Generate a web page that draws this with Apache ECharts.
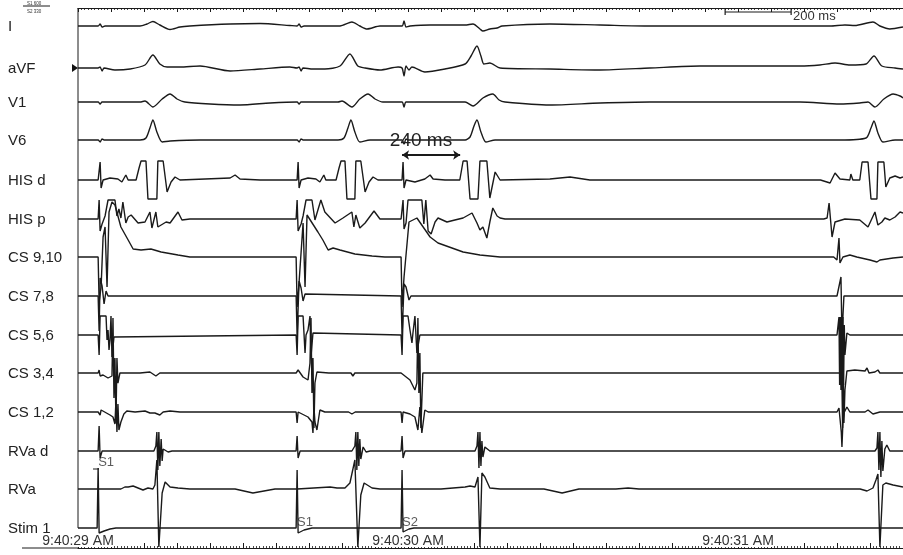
<!DOCTYPE html>
<html><head><meta charset="utf-8">
<script src="https://cdn.jsdelivr.net/npm/echarts@6/dist/echarts.min.js"></script>
<style>html,body{margin:0;padding:0;background:#fff}#c{width:903px;height:555px}</style>
</head><body><div id="c"></div>
<script>
// ---------- DATA (time in ms from 9:40:29 AM, amplitude in trace units, positive = up) ----------
const channelNames = ['I','aVF','V1','V6','HIS d','HIS p','CS 9,10','CS 7,8','CS 5,6','CS 3,4','CS 1,2','RVa d','RVa','Stim 1'];
const timeTickLabels = ['9:40:29 AM','9:40:30 AM','9:40:31 AM'];
const stimTimes = [61, 664, 982];
const stimNames = ['S1','S1','S2'];
const protocolText = ['S1 600','S2 330'];
const scaleBarMs = 200;
const measureFrom = 982, measureTo = 1158, measureText = '240 ms';

const leadI = [[0,0],[61,0],[67,2],[73,-1],[82,0],[188,0],[209,2],[227,4.5],[248,1],[279,-3.5],[309,-1],[339,0],[461,2],[552,2.5],[642,0.5],[664,0],[670,2],[676,-1],[685,0],[794,0],[830,4],[854,0],[876,-3],[915,0],[982,0],[988,5],[994,-1],[1006,0],[1067,1],[1173,1],[1197,2],[1218,-3],[1227,-5],[1248,-3],[1270,-2],[1285,0],[1430,2],[1582,1],[1733,0],[2279,0],[2324,1],[2354,0.5],[2409,4],[2430,0],[2460,-3],[2500,-1]];
const leadAVF = [[0,0],[61,0],[67,1],[73,-3],[79,0],[112,-2],[158,-1],[203,3],[227,13],[248,4],[270,1],[309,1],[370,2],[461,-3],[552,-1],[642,1],[664,0],[670,1],[676,-3],[682,0],[712,-1],[748,-1],[794,2],[824,14],[848,2],[870,0],[915,-2],[970,1],[982,0],[988,-8],[994,2],[1003,-2],[1012,1],[1051,-4],[1112,-1],[1173,4],[1191,12],[1209,22],[1221,12],[1230,4],[1248,5],[1279,0],[1430,-1],[1582,-2],[1733,0],[1885,2],[2188,2],[2248,3],[2294,5],[2339,3],[2388,4],[2412,12],[2436,2],[2476,0],[2500,-1]];
const leadV1 = [[0,0],[61,0],[67,-2],[73,0],[188,0],[203,1],[227,-5],[255,3],[279,8],[300,3],[324,0],[400,-2],[491,-3],[582,-1],[664,0],[670,-2],[676,0],[788,0],[800,1],[830,-5],[854,3],[879,8],[900,3],[924,0],[982,0],[988,-5],[994,0],[1173,0],[1197,-4],[1227,4],[1257,8],[1276,2],[1294,0],[1430,-3],[1582,-1],[1733,0],[2188,0],[2309,-2],[2369,-1],[2394,0],[2415,-5],[2442,3],[2470,8],[2491,6],[2500,4]];
const leadV6 = [[0,0],[61,0],[67,-2],[73,1],[79,0],[188,0],[206,2],[218,12],[227,20],[239,8],[255,-2],[279,-1],[370,0],[664,0],[670,-2],[676,1],[682,0],[788,0],[806,2],[818,12],[827,20],[839,8],[854,-2],[885,0],[982,0],[988,-4],[994,1],[1000,0],[1173,0],[1188,3],[1200,14],[1209,20],[1221,8],[1236,-2],[1264,0],[2309,0],[2388,2],[2403,12],[2412,19],[2424,7],[2439,-2],[2476,0],[2500,0]];
const hisD = [[0,0],[61,0],[64,0],[67,18],[70,-8],[76,0],[97,2],[121,1],[133,-2],[145,5],[152,0],[176,0],[185,12],[191,19],[206,19],[212,-19],[239,-19],[242,19],[258,19],[270,-12],[282,-2],[294,3],[309,0],[461,2],[476,5],[491,1],[552,0],[664,0],[667,18],[670,-8],[676,0],[697,2],[721,1],[733,-2],[745,5],[751,0],[782,0],[791,12],[797,19],[809,19],[815,-19],[839,-19],[842,19],[857,19],[870,-12],[882,-2],[894,3],[909,0],[982,0],[985,18],[988,-8],[994,0],[1021,-2],[1051,1],[1067,5],[1076,1],[1112,0],[1157,0],[1167,19],[1179,19],[1188,-19],[1212,-19],[1218,19],[1239,19],[1248,-18],[1264,8],[1279,0],[1430,1],[1491,3],[1551,0],[2250,0],[2279,-3],[2294,7],[2309,1],[2339,0],[2342,6],[2348,0],[2369,0],[2376,18],[2394,18],[2403,-19],[2421,-19],[2424,18],[2442,18],[2448,-7],[2460,2],[2476,4],[2491,2],[2500,3]];
const hisP = [[0,0],[61,0],[64,19],[67,-12],[73,-5],[82,3],[91,19],[112,19],[118,3],[124,10],[130,1],[136,17],[145,-4],[152,2],[161,4],[182,-4],[203,-3],[218,7],[224,-9],[236,7],[242,-8],[267,-3],[279,-4],[303,7],[315,-1],[339,0],[661,0],[664,19],[667,-12],[676,-5],[682,3],[691,19],[709,19],[718,-1],[736,19],[748,7],[779,-4],[803,1],[830,7],[836,-8],[842,4],[854,-9],[870,-4],[897,8],[915,0],[979,0],[985,19],[988,-10],[994,-4],[1000,19],[1042,19],[1048,-5],[1054,19],[1061,-12],[1070,-15],[1082,-3],[1091,1],[1118,-3],[1142,-1],[1167,1],[1194,6],[1209,-4],[1218,-11],[1227,-8],[1239,-19],[1248,-3],[1257,11],[1270,3],[1279,1],[1294,0],[2260,0],[2270,1],[2276,16],[2285,-18],[2294,-3],[2324,0],[2369,-1],[2394,-8],[2415,7],[2424,-6],[2436,-3],[2445,1],[2460,-1],[2476,2],[2491,7],[2500,6]];
const cs910 = [[0,0],[61,0],[64,-45],[70,-30],[76,20],[82,30],[88,-30],[94,45],[103,55],[112,52],[130,30],[152,17],[167,8],[191,7],[221,8],[252,5],[303,2],[339,0],[661,0],[664,-50],[670,-25],[682,34],[688,-30],[694,42],[727,25],[742,17],[758,7],[773,9],[794,7],[839,3],[891,1],[930,0],[979,0],[982,-50],[988,-20],[1003,35],[1027,39],[1067,20],[1091,14],[1167,5],[1218,2],[1279,0],[2290,0],[2300,-3],[2306,19],[2309,-6],[2312,-8],[2318,0],[2339,2],[2360,0],[2400,-3],[2421,-5],[2430,-3],[2470,-1],[2500,0]];
const cs78 = [[0,0],[61,0],[64,-35],[67,18],[73,10],[79,-8],[85,5],[91,0],[661,0],[664,-40],[670,15],[676,8],[682,-5],[688,2],[694,0],[979,0],[982,-40],[988,12],[994,9],[1003,-4],[1009,0],[2300,0],[2306,2],[2312,19],[2315,-40],[2321,0],[2500,0]];
const cs56 = [[0,0],[61,0],[64,-20],[67,19],[85,19],[88,-5],[91,5],[94,-15],[97,-5],[100,19],[103,-22],[109,-2],[115,0],[661,0],[664,-20],[667,19],[682,19],[688,-18],[691,0],[697,5],[703,19],[706,-22],[712,2],[718,0],[979,0],[982,-20],[985,19],[1000,19],[1006,5],[1012,-8],[1015,2],[1021,19],[1027,-18],[1036,0],[2300,0],[2303,0],[2306,18],[2308,-50],[2310,18],[2312,-55],[2314,18],[2316,-55],[2318,18],[2320,-50],[2322,10],[2324,-20],[2330,2],[2339,0],[2500,0]];
const cs34 = [[0,0],[61,0],[64,3],[67,-3],[76,-2],[91,-5],[97,-7],[103,-3],[106,55],[109,-25],[112,15],[115,-50],[118,15],[121,-10],[127,0],[133,1],[188,0],[218,1],[236,-3],[248,0],[661,0],[664,2],[667,3],[682,-4],[697,-7],[703,10],[706,55],[709,-20],[712,15],[715,-55],[718,-10],[724,1],[760,0],[827,0],[833,-3],[839,0],[979,0],[982,2],[985,-2],[1006,-7],[1021,-17],[1027,-10],[1030,55],[1033,-20],[1036,20],[1039,-55],[1045,0],[1048,1],[1080,0],[2300,0],[2312,0],[2315,-10],[2317,-55],[2319,-5],[2321,-50],[2324,-17],[2330,2],[2354,3],[2385,2],[2391,5],[2397,0],[2415,1],[2424,3],[2430,0],[2500,0]];
const cs12 = [[0,0],[61,0],[67,-3],[70,2],[76,0],[97,-3],[106,-5],[112,-12],[115,12],[118,-20],[121,8],[124,-18],[130,-10],[139,-2],[148,1],[173,0],[203,1],[218,-1],[233,-1],[248,-3],[258,0],[279,1],[309,0],[661,0],[664,-11],[667,0],[697,-5],[709,-10],[712,-21],[715,5],[718,-10],[724,-18],[733,2],[748,0],[820,0],[830,-2],[840,0],[979,0],[982,-11],[985,0],[1006,-2],[1021,-5],[1030,-18],[1036,5],[1042,-21],[1051,2],[1061,0],[2290,0],[2300,0],[2306,4],[2313,-20],[2315,-35],[2318,-10],[2321,-1],[2330,5],[2339,0],[2385,0],[2394,2],[2409,-2],[2430,0],[2500,0]];
const rvaD = [[0,0],[61,0],[64,25],[67,-7],[73,0],[230,0],[236,5],[239,19],[242,-19],[245,19],[248,-15],[252,12],[255,-10],[258,2],[264,4],[273,-1],[285,0],[661,0],[664,15],[667,-7],[673,0],[830,0],[839,5],[842,19],[845,-19],[848,19],[851,-15],[854,12],[857,-8],[864,4],[873,-1],[885,0],[979,0],[982,15],[985,-7],[991,0],[1203,0],[1209,5],[1212,19],[1215,-17],[1218,19],[1221,-15],[1224,10],[1227,-6],[1233,4],[1248,0],[2415,0],[2421,3],[2424,19],[2427,-19],[2430,19],[2433,-26],[2436,10],[2439,-20],[2445,2],[2451,6],[2460,0],[2500,0]];
const rva = [[0,0],[130,0],[142,2],[152,2],[167,3],[182,1],[197,-1],[212,1],[227,0],[233,4],[239,29],[245,-58],[255,-4],[264,7],[279,2],[303,1],[339,0],[476,0],[530,-4],[597,0],[664,0],[764,2],[785,1],[809,1],[824,6],[839,29],[848,-58],[857,-6],[867,6],[891,1],[915,0],[1100,0],[1173,2],[1188,3],[1203,2],[1212,12],[1218,-58],[1224,16],[1233,12],[1248,1],[1279,0],[1412,0],[1467,-4],[1518,0],[1630,0],[1667,1],[1700,0],[2370,0],[2391,-2],[2409,1],[2418,9],[2424,15],[2430,-58],[2439,4],[2448,6],[2470,4],[2500,2]];
const stim1 = [[0,0],[58,0],[61,60],[64,-5],[70,-6],[79,-3],[97,-1],[115,0],[661,0],[664,58],[667,-5],[673,-5],[685,-2],[709,0],[979,0],[982,58],[985,-4],[991,-4],[1003,-1],[1018,0],[2500,0]];

const channelData = [leadI, leadAVF, leadV1, leadV6, hisD, hisP, cs910, cs78, cs56, cs34, cs12, rvaD, rva, stim1];

// ---------- LAYOUT ----------
const W = 903, H = 555;
const PLOT_LEFT = 78, PLOT_TOP = 8, AXIS_Y = 548;
const baselines = [26, 68, 102, 140, 180, 219, 257, 296, 335, 373, 412, 451, 489, 528];
const smoothLeads = [true, true, true, true, false, false, false, false, false, false, false, false, false, false];
const FONT = '"Liberation Sans", Arial, Helvetica, sans-serif';
const INK = '#1a1a1a';
const stimLabelY = [462, 522, 522];

const chart = echarts.init(document.getElementById('c'), null, {renderer: 'canvas'});

const traceSeries = channelData.map((arr, i) => ({
  type: 'line', name: channelNames[i],
  data: arr.map(p => [p[0], baselines[i] - p[1]]),
  showSymbol: false, symbol: 'none', silent: true, clip: false,
  smooth: smoothLeads[i] ? 0.25 : false,
  lineStyle: {color: INK, width: 1.4}, z: 3
}));

const option = {
  animation: false,
  backgroundColor: '#fff',
  grid: {left: PLOT_LEFT, right: 0, top: PLOT_TOP, bottom: H - AXIS_Y, containLabel: false},
  xAxis: [
    {type: 'value', position: 'bottom', min: 0, max: 2500, interval: 100,
     axisLine: {show: true, lineStyle: {color: INK, width: 1}},
     axisTick: {show: true, inside: true, length: 5, lineStyle: {color: INK, width: 1}},
     minorTick: {show: true, splitNumber: 10, length: 2, lineStyle: {color: INK, width: 0.8}},
     splitLine: {show: false},
     axisLabel: {show: true, inside: false, margin: -1, verticalAlign: 'bottom',
       color: '#333', fontFamily: FONT, fontSize: 14, backgroundColor: '#fff', lineHeight: 12,
       showMaxLabel: false,
       formatter: v => (v % 1000 === 0 && timeTickLabels[v / 1000]) ? timeTickLabels[v / 1000] : ''}},
    {type: 'value', position: 'top', min: 0, max: 2500, interval: 100,
     axisLine: {show: true, lineStyle: {color: INK, width: 1}},
     axisTick: {show: true, inside: true, length: 4, lineStyle: {color: INK, width: 1}},
     minorTick: {show: true, splitNumber: 10, length: 2, lineStyle: {color: INK, width: 0.8}},
     splitLine: {show: false}, axisLabel: {show: false}}
  ],
  yAxis: {type: 'value', min: PLOT_TOP, max: AXIS_Y, inverse: true, show: false},
  series: traceSeries.concat([
    {type: 'scatter', name: 'stim labels', symbolSize: 0, silent: true,
     data: stimTimes.map((t, i) => ({value: [t, stimLabelY[i]], name: stimNames[i]})),
     label: {show: true, position: 'right', distance: 0, formatter: p => p.name,
       color: '#333', fontFamily: FONT, fontSize: 13}},
    {type: 'line', name: 'scale bar', data: [[1961, 12], [1961 + scaleBarMs, 12]],
     symbol: 'rect', symbolSize: [1.2, 6], showSymbol: true, silent: true, clip: false,
     itemStyle: {color: INK}, lineStyle: {color: INK, width: 1.2}},
    {type: 'lines', name: 'measure', coordinateSystem: 'cartesian2d', silent: true,
     symbol: ['arrow', 'arrow'], symbolSize: 7,
     lineStyle: {color: INK, width: 2, opacity: 1},
     data: [{coords: [[measureFrom, 155], [measureTo, 155]]}]}
  ]),
  graphic: [
    {type: 'line', shape: {x1: PLOT_LEFT, y1: PLOT_TOP, x2: PLOT_LEFT, y2: 528}, style: {stroke: INK, lineWidth: 1}},
    {type: 'line', shape: {x1: 22, y1: AXIS_Y, x2: PLOT_LEFT, y2: AXIS_Y}, style: {stroke: INK, lineWidth: 1}},
    {type: 'line', shape: {x1: 23, y1: 6, x2: 50, y2: 6}, style: {stroke: INK, lineWidth: 1}},
    {type: 'text', x: 27, y: 3.5, style: {text: protocolText[0], font: '4.5px ' + FONT, fill: '#333', textVerticalAlign: 'middle'}},
    {type: 'text', x: 27, y: 11.5, style: {text: protocolText[1], font: '4.5px ' + FONT, fill: '#333', textVerticalAlign: 'middle'}},
    {type: 'polygon', shape: {points: [[72, 64], [72, 72], [78, 68]]}, style: {fill: '#111'}},
    {type: 'line', shape: {x1: 93, y1: 469, x2: 99, y2: 469}, style: {stroke: INK, lineWidth: 1}},
    {type: 'text', x: 793, y: 16, style: {text: scaleBarMs + ' ms', font: '13px ' + FONT, fill: '#333', textVerticalAlign: 'middle'}},
    {type: 'text', x: 421, y: 141, z: 10, style: {text: measureText, font: '19px ' + FONT, fill: '#222', textAlign: 'center', textVerticalAlign: 'middle'}}
  ].concat(channelNames.map((n, i) => ({
    type: 'text', x: 8, y: baselines[i] + 1,
    style: {text: n, font: '15px ' + FONT, fill: '#222', textVerticalAlign: 'middle'}
  })))
};
chart.setOption(option);
</script></body></html>
